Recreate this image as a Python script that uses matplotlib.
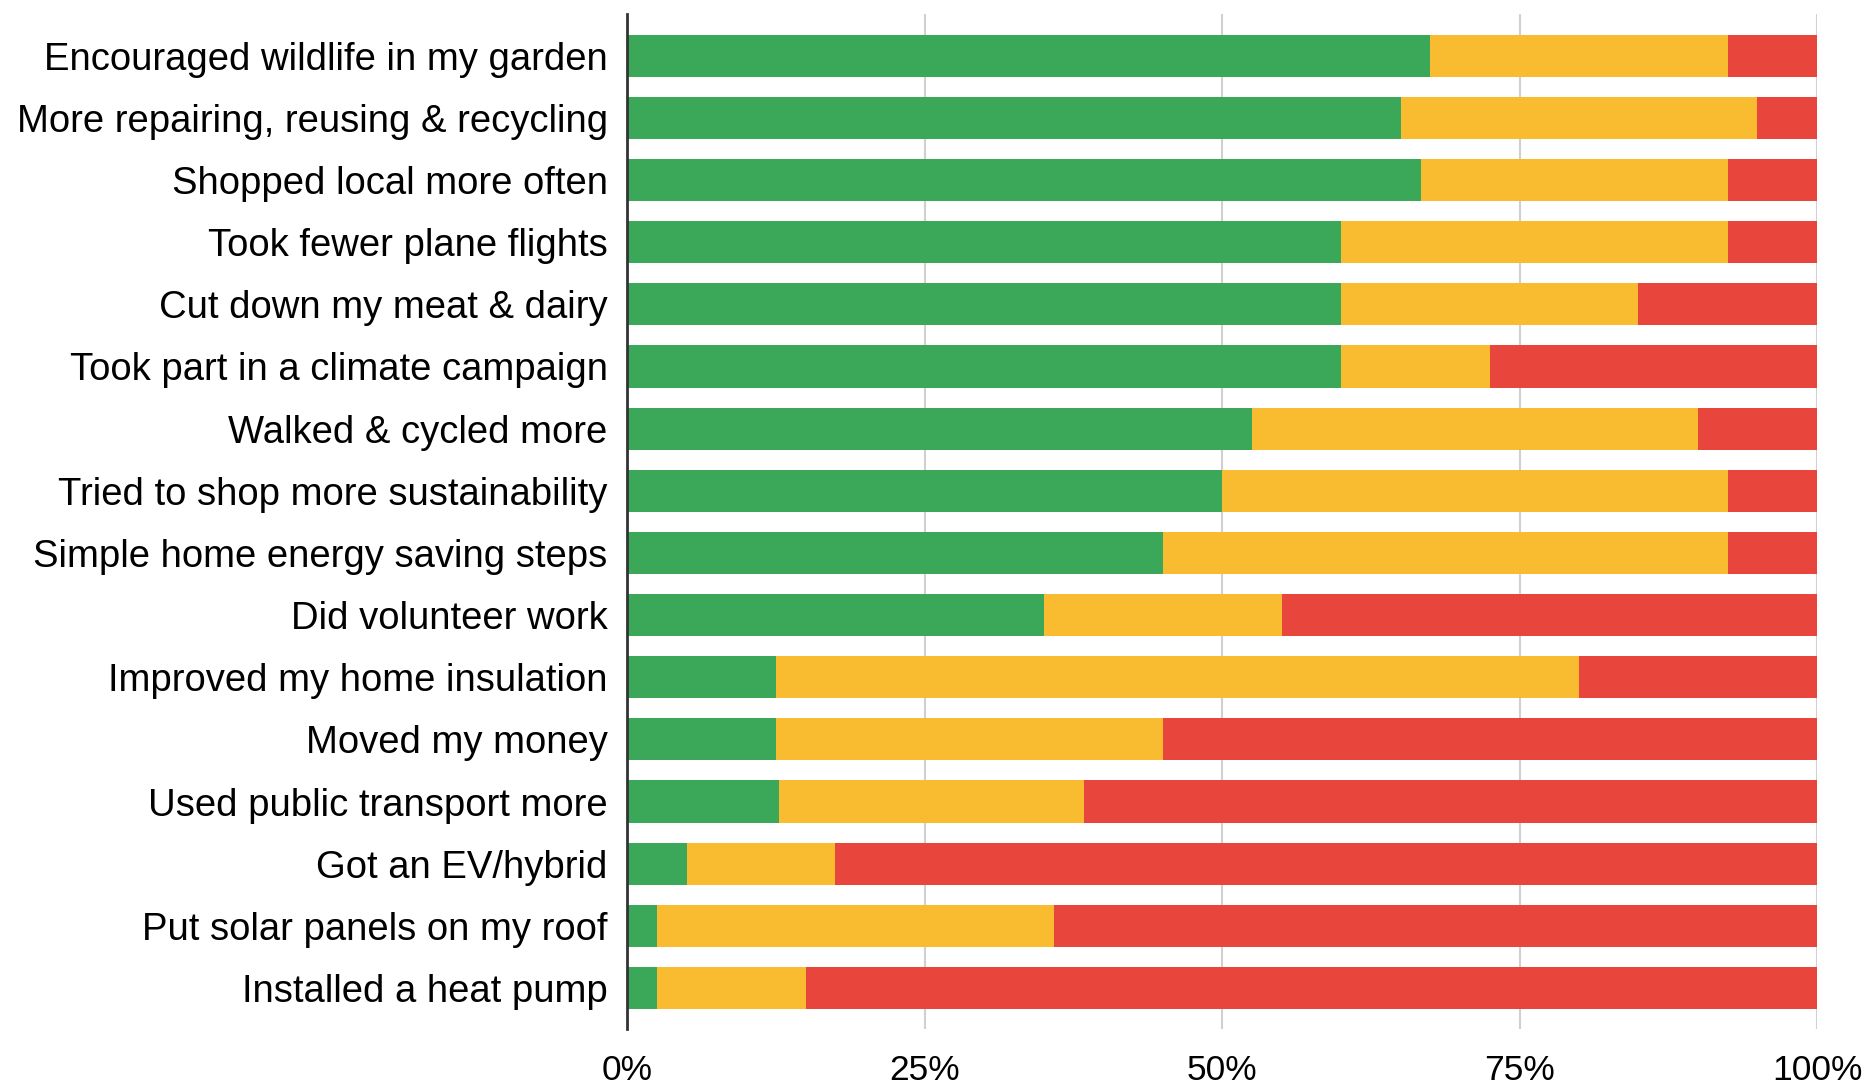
import matplotlib.pyplot as plt

plt.rcParams['font.family'] = ['Liberation Sans', 'DejaVu Sans']

# Survey actions (top to bottom) and share of answers in %
actions = [
    "Encouraged wildlife in my garden",
    "More repairing, reusing & recycling",
    "Shopped local more often",
    "Took fewer plane flights",
    "Cut down my meat & dairy",
    "Took part in a climate campaign",
    "Walked & cycled more",
    "Tried to shop more sustainability",
    "Simple home energy saving steps",
    "Did volunteer work",
    "Improved my home insulation",
    "Moved my money",
    "Used public transport more",
    "Got an EV/hybrid",
    "Put solar panels on my roof",
    "Installed a heat pump",
]
green = [67.5, 65.0, 66.7, 60.0, 60.0, 60.0, 52.5, 50.0, 45.0, 35.0, 12.5, 12.5, 12.8, 5.0, 2.5, 2.5]
yellow = [25.0, 30.0, 25.8, 32.5, 25.0, 12.5, 37.5, 42.5, 47.5, 20.0, 67.5, 32.5, 25.6, 12.5, 33.4, 12.5]
red = [7.5, 5.0, 7.5, 7.5, 15.0, 27.5, 10.0, 7.5, 7.5, 45.0, 20.0, 55.0, 61.6, 82.5, 64.1, 85.0]

ticks = [0, 25, 50, 75, 100]
tick_labels = ["0%", "25%", "50%", "75%", "100%"]

fig = plt.figure(figsize=(18.72, 10.87), dpi=100)
ax = fig.add_axes([0.335, 0.0534, 0.6356, 0.9336])

y = list(range(len(actions)))
left_yellow = green
left_red = [g + yv for g, yv in zip(green, yellow)]

ax.barh(y, green, height=0.68, color="#3ba758", zorder=3)
ax.barh(y, yellow, left=left_yellow, height=0.68, color="#f9bb2f", zorder=3)
ax.barh(y, red, left=left_red, height=0.68, color="#e8453c", zorder=3)

ax.set_xlim(0, 100)
ax.set_ylim(len(actions) - 0.34, -0.67)
ax.set_yticks(y)
ax.set_yticklabels(actions, fontsize=27.5)
ax.set_xticks(ticks)
ax.set_xticklabels(tick_labels, fontsize=25.5)
ax.tick_params(axis='both', length=0)
ax.tick_params(axis='x', pad=18)
ax.tick_params(axis='y', pad=14)

ax.grid(axis='x', color="#d0d0d0", linewidth=1.5, zorder=0)
for s in ["top", "right", "bottom"]:
    ax.spines[s].set_visible(False)
ax.spines["left"].set_color("#333333")
ax.spines["left"].set_linewidth(2)
ax.spines["left"].set_zorder(4)

plt.savefig("out.png", dpi=100)
plt.close()
